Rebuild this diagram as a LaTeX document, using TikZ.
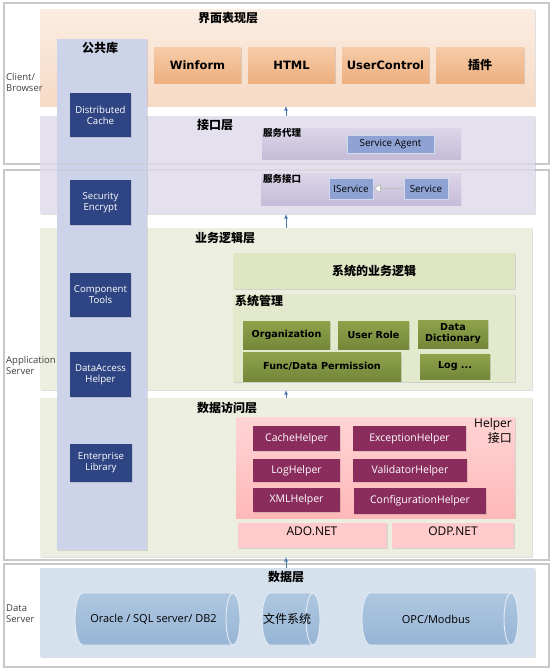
\documentclass[tikz,border=0pt]{standalone}
\usepackage{fontspec}
\setmainfont{Open Sans}
\newfontfamily\cjk{Noto Sans CJK SC}
\newfontfamily\dv{DejaVu Sans}
\usetikzlibrary{shapes.geometric,arrows.meta,shadows,calc}
\definecolor{framec}{HTML}{C8C8C8}
\definecolor{uibandt}{HTML}{FBEDE2}
\definecolor{uibandb}{HTML}{F6DAC5}
\definecolor{uitop}{HTML}{F6CCA8}
\definecolor{uibot}{HTML}{EDAF7F}
\definecolor{ifband}{HTML}{E4E0EE}
\definecolor{proxtop}{HTML}{DCD6E8}
\definecolor{proxbot}{HTML}{C6BCD9}
\definecolor{agent}{HTML}{8EA2D4}
\definecolor{bizband}{HTML}{ECEFDF}
\definecolor{bizlogic}{HTML}{DEE6C3}
\definecolor{sysm}{HTML}{E3E9CD}
\definecolor{grtop}{HTML}{8FA24A}
\definecolor{grbot}{HTML}{74873A}
\definecolor{pinktop}{HTML}{FFD4D4}
\definecolor{pinkbot}{HTML}{FFB8B8}
\definecolor{maroon}{HTML}{8A2D5C}
\definecolor{adon}{HTML}{FFCACA}
\definecolor{libcol}{HTML}{CDD4EA}
\definecolor{libbox}{HTML}{2F4583}
\definecolor{databand}{HTML}{D5E1ED}
\definecolor{cylc}{HTML}{A6C1DC}
\definecolor{cyltop}{HTML}{AEC7E0}
\definecolor{cylbot}{HTML}{97B5D5}
\definecolor{arrowblue}{HTML}{4A7AB0}
\newcommand\rbox[6]{\node[#6, minimum width={(#4-#2)*1pt}, minimum height={(#5-#3)*1pt}] (#1) at ({(#2+#4)/2},{(#3+#5)/2})}
\newcommand\cylin[6]{%
  \path[top color=cyltop, bottom color=cylbot, draw=white!70!cylc, line width=0.9pt] ({#2+8},#3) -- ({#4-7},#3)
     arc[start angle=-90, end angle=90, x radius=7, y radius={(#5-#3)/2}] -- ({#2+8},#5)
     arc[start angle=90, end angle=270, x radius=8, y radius={(#5-#3)/2}] -- cycle;
  \draw[white!70!cylc, line width=0.9pt] ({#4-7},#3) arc[start angle=-90, end angle=-270, x radius=7, y radius={(#5-#3)/2}];
  \node[base, font=\fontsize{11}{13}\selectfont] (#1) at ({(#2+#4)/2-4},{(#3+#5)/2}) {#6};}
\tikzset{
  base/.style={inner sep=0pt, outer sep=0pt, align=center},
  shad/.style={drop shadow={shadow xshift=1.2pt, shadow yshift=-1.2pt, opacity=.25, fill=gray}},
  frame/.style={draw=framec, line width=1.4pt},
  band/.style={base, shad},
  title/.style={inner sep=0pt, font=\cjk\bfseries\fontsize{12}{14}\selectfont},
  obox/.style={base, shad, top color=uitop, bottom color=uibot, font=\dv\bfseries\fontsize{11.5}{13}\selectfont},
  gbox/.style={base, shad, top color=grtop, bottom color=grbot, font=\dv\bfseries\fontsize{9.6}{11}\selectfont},
  mbox/.style={base, shad, fill=maroon, text=white, font=\fontsize{10.5}{12}\selectfont},
  lbox/.style={base, shad, fill=libbox, text=white, font=\fontsize{9.6}{11}\selectfont},
  pbox/.style={base, fill=agent, draw=white!60!agent, line width=0.6pt, font=\fontsize{9.8}{11}\selectfont},
  side/.style={inner sep=0pt, align=left, font=\fontsize{9.5}{11}\selectfont, text=black!75},
  arr/.style={-{Latex[length=4.5pt,width=4pt]}, draw=arrowblue, line width=0.9pt},
}
\begin{document}
\begin{tikzpicture}[x=1pt,y=-1pt]
\useasboundingbox[fill=white] (0,0) rectangle (555,672);
% outer frames
\node[frame, base, minimum width=545pt, minimum height=161pt] (fclient) at (276.5,83.5) {};
\node[frame, base, minimum width=545pt, minimum height=390pt] (fapp) at (276.5,365) {};
\node[frame, base, minimum width=545pt, minimum height=103pt] (fdata) at (276.5,615.5) {};
% bands
\rbox{ui}{40}{9}{535}{106}{band, top color=uibandt, bottom color=uibandb} {};
\rbox{iface}{40}{116}{535}{214}{band, fill=ifband} {};
\rbox{biz}{40}{228}{532}{390}{band, fill=bizband} {};
\rbox{dal}{40}{398}{532}{557}{band, fill=bizband} {};
\rbox{data}{40}{568}{535}{657}{band, fill=databand} {};
% band titles
\node[title] (tui) at (228,18) {界面表现层};
\node[title] (tif) at (215,125) {接口层};
\node[title] (tbiz) at (225,238) {业务逻辑层};
\node[title] (tdal) at (227,408) {数据访问层};
\node[title] (tdata) at (286,577) {数据层};
% side labels
\node[side, anchor=west] (sclient) at (6,82) {Client/\\Browser};
\node[side, anchor=west] (sapp) at (6,365) {Application\\Server};
\node[side, anchor=west] (sdata) at (6,614) {Data\\Server};
% UI boxes
\rbox{win}{154}{47}{241}{83}{obox} {Winform};
\rbox{html}{248}{47}{335}{83}{obox} {HTML};
\rbox{uc}{342}{47}{429}{83}{obox} {UserControl};
\rbox{plug}{436}{47}{524}{83}{obox} {\cjk\bfseries\fontsize{12}{14}\selectfont 插件};
% interface layer
\rbox{proxy}{262}{128}{461}{159}{base, top color=proxtop, bottom color=proxbot} {};
\node[anchor=north west, inner sep=0pt, font=\cjk\bfseries\fontsize{9.5}{11}\selectfont] (lproxy) at (263,128) {服务代理};
\rbox{agentb}{347}{135}{434}{153}{pbox} {Service Agent};
\rbox{svcif}{261}{173}{461}{205}{base, top color=proxtop, bottom color=proxbot} {};
\node[anchor=north west, inner sep=0pt, font=\cjk\bfseries\fontsize{9.5}{11}\selectfont] (lsvcif) at (263,174) {服务接口};
\rbox{isvc}{329}{178}{373}{199}{pbox} {IService};
\rbox{svc}{404}{178}{448}{199}{pbox} {Service};
\draw[draw=black!25, line width=0.8pt, -{Triangle[open, length=8pt, width=9pt, fill=white]}] (svc.west) -- (isvc.east);
% business layer
\rbox{bl}{233}{253}{515}{289}{base, shad, fill=bizlogic, font=\cjk\bfseries\fontsize{12}{14}\selectfont} {系统的业务逻辑};
\rbox{sm}{233}{294}{515}{382}{base, shad, fill=sysm} {};
\node[anchor=north west, inner sep=0pt, font=\cjk\bfseries\fontsize{12}{14}\selectfont] (lsm) at (235,295) {系统管理};
\rbox{org}{243}{321}{330}{349}{gbox} {Organization};
\rbox{role}{338}{321}{409}{349}{gbox} {User Role};
\rbox{dict}{418}{320}{488}{348}{gbox} {Data\\Dictionary};
\rbox{perm}{243}{352}{401}{381}{gbox} {Func/Data Permission};
\rbox{log}{420}{354}{490}{379}{gbox} {Log ...};
% data access layer
\rbox{helper}{236}{417}{515}{518}{base, shad, top color=pinktop, bottom color=pinkbot} {};
\node[anchor=north east, inner sep=0pt, align=right, font=\fontsize{12}{15}\selectfont] (lhelper) at (512,418) {Helper\\{\cjk 接口}};
\rbox{cache}{253}{426}{340}{451}{mbox} {CacheHelper};
\rbox{exc}{353}{426}{466}{451}{mbox} {ExceptionHelper};
\rbox{logh}{253}{459}{340}{482}{mbox} {LogHelper};
\rbox{valid}{353}{459}{467}{482}{mbox} {ValidatorHelper};
\rbox{xml}{253}{488}{340}{512}{mbox} {XMLHelper};
\rbox{conf}{354}{488}{486}{514}{mbox} {ConfigurationHelper};
\rbox{ado}{238}{523}{387}{548}{base, shad, fill=adon} {};
\node[inner sep=0pt, font=\fontsize{12}{14}\selectfont] (lado) at (312,531) {ADO.NET};
\rbox{odp}{392}{523}{514}{548}{base, shad, fill=adon} {};
\node[inner sep=0pt, font=\fontsize{12}{14}\selectfont] (lodp) at (453,531) {ODP.NET};
% data layer cylinders
\cylin{ora}{75}{593}{240}{645}{Oracle / SQL server/ DB2}
\cylin{fs}{262}{593}{320}{645}{\cjk\fontsize{12}{14}\selectfont 文件系统}
\cylin{opc}{362}{593}{518}{645}{OPC/Modbus}
% common library column
\rbox{lib}{57}{39}{147}{550}{band, fill=libcol} {};
\node[title] (tlib) at (100,48) {公共库};
\rbox{dcache}{70}{93}{131}{137}{lbox} {Distributed\\Cache};
\rbox{sec}{70}{180}{131}{225}{lbox} {Security\\Encrypt};
\rbox{comp}{70}{273}{131}{317}{lbox} {Component\\Tools};
\rbox{dah}{70}{352}{131}{397}{lbox} {DataAccess\\Helper};
\rbox{ent}{70}{444}{132}{482}{lbox} {Enterprise\\Library};
% faint frame lines seen through the bands
\draw[framec, line width=1.2pt, draw opacity=.35] (fclient.north west) rectangle (fclient.south east);
\draw[framec, line width=1.2pt, draw opacity=.35] (fapp.north west) rectangle (fapp.south east);
% arrows
\coordinate (ax) at (286,0);
\draw[arr] (iface.north -| ax) -- (ui.south -| ax);
\draw[arr] (biz.north -| ax) -- (iface.south -| ax);
\draw[arr] (dal.north -| ax) -- (biz.south -| ax);
\draw[arr] (data.north -| ax) -- (dal.south -| ax);
\end{tikzpicture}
\end{document}
